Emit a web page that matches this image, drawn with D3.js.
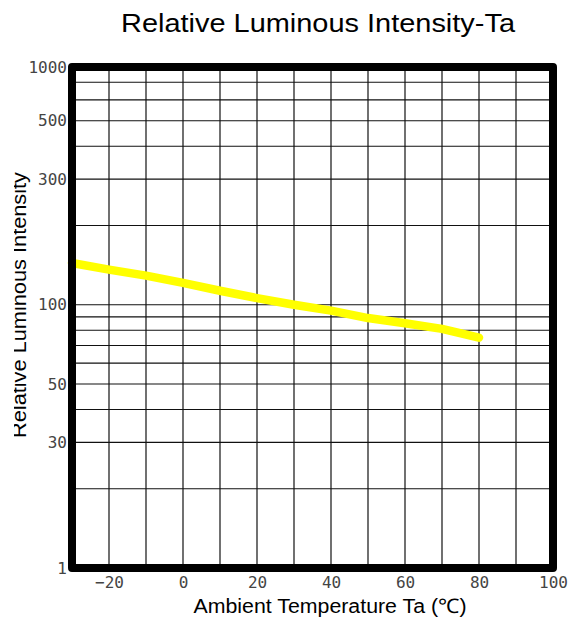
<!DOCTYPE html>
<html>
<head>
<meta charset="utf-8">
<script src="https://cdn.jsdelivr.net/npm/d3@7"></script>
<style>
  body { margin: 0; background: #fff; }
  svg { display: block; }
</style>
</head>
<body>
<div id="chart"></div>
<script>
// data
var temps = [-30, -20, -10, 0, 10, 20, 30, 40, 50, 60, 70, 80];
var intensity = [144, 136, 129, 121, 113, 106, 100, 95, 89, 85, 81, 75];

var xTicks = [-20, 0, 20, 40, 60, 80, 100];
var xGrid = [-20, -10, 0, 10, 20, 30, 40, 50, 60, 70, 80, 90];
// the printed y labels do not match a clean log axis, keep the drawn positions
var yTickVals = [10, 30, 50, 100, 300, 500, 800];
var yTickLabels = ["1", "30", "50", "100", "300", "500", "1000"];
var yGrid = [20, 30, 40, 50, 60, 70, 80, 90, 100, 200, 300, 400, 500, 600, 700];

var width = 576, height = 623;
var plotL = 72, plotR = 553, plotT = 67, plotB = 568;

var svg = d3.select("#chart").append("svg")
  .attr("width", width)
  .attr("height", height);

var x = d3.scaleLinear().domain([-30, 100]).range([plotL, plotR]);
var y = d3.scaleLog().domain([10, 800]).range([plotB, plotT]);

// grid
var grid = svg.append("g");
grid.selectAll(".vg").data(xGrid).enter().append("line")
  .attr("x1", function(d){ return x(d); })
  .attr("x2", function(d){ return x(d); })
  .attr("y1", plotT)
  .attr("y2", plotB)
  .style("stroke", "#111")
  .style("stroke-width", 1.2);
grid.selectAll(".hg").data(yGrid).enter().append("line")
  .attr("x1", plotL)
  .attr("x2", plotR)
  .attr("y1", function(d){ return y(d); })
  .attr("y2", function(d){ return y(d); })
  .style("stroke", "#111")
  .style("stroke-width", 1.2);

// curve
var line = d3.line()
  .x(function(d, i){ return x(temps[i]); })
  .y(function(d){ return y(d); });
svg.append("path")
  .datum(intensity)
  .attr("d", line)
  .style("fill", "none")
  .style("stroke", "#ffff00")
  .style("stroke-width", 8.5)
  .style("stroke-linecap", "round")
  .style("stroke-linejoin", "round");

// frame
svg.append("rect")
  .attr("x", plotL)
  .attr("y", plotT)
  .attr("width", plotR - plotL)
  .attr("height", plotB - plotT)
  .style("fill", "none")
  .style("stroke", "#000")
  .style("stroke-width", 8)
  .style("stroke-linejoin", "round");

// tick labels
var xAxis = d3.axisBottom(x).tickValues(xTicks).tickSize(0).tickPadding(9);
var gx = svg.append("g")
  .attr("transform", "translate(0," + plotB + ")")
  .call(xAxis);
gx.select(".domain").remove();
gx.selectAll("text")
  .style("font-family", "DejaVu Sans Mono")
  .style("font-size", "16px")
  .style("fill", "#444");

var yAxis = d3.axisLeft(y).tickValues(yTickVals).tickSize(0).tickPadding(4)
  .tickFormat(function(d, i){ return yTickLabels[i]; });
var gy = svg.append("g")
  .attr("transform", "translate(" + (plotL - 1) + ",0)")
  .call(yAxis);
gy.select(".domain").remove();
gy.selectAll("text")
  .style("font-family", "DejaVu Sans Mono")
  .style("font-size", "16px")
  .style("fill", "#444");

// titles
svg.append("text")
  .attr("x", 318)
  .attr("y", 32)
  .attr("text-anchor", "middle")
  .attr("textLength", 394)
  .attr("lengthAdjust", "spacingAndGlyphs")
  .style("font-family", "Liberation Sans, Arial, sans-serif")
  .style("font-size", "25px")
  .text("Relative Luminous Intensity-Ta");

svg.append("text")
  .attr("x", 330)
  .attr("y", 613)
  .attr("text-anchor", "middle")
  .attr("textLength", 273)
  .attr("lengthAdjust", "spacingAndGlyphs")
  .style("font-family", "Liberation Sans, Arial, sans-serif")
  .style("font-size", "20px")
  .text("Ambient Temperature Ta (\u2103)");

// the y title is cut at its top edge in the reference
svg.append("defs").append("clipPath")
  .attr("id", "yclip")
  .append("rect")
    .attr("x", 14)
    .attr("y", 0)
    .attr("width", 40)
    .attr("height", height);

svg.append("g")
  .attr("clip-path", "url(#yclip)")
  .append("text")
    .attr("transform", "translate(26,305) rotate(-90)")
    .attr("text-anchor", "middle")
    .attr("textLength", 266)
    .attr("lengthAdjust", "spacingAndGlyphs")
    .style("font-family", "Liberation Sans, Arial, sans-serif")
    .style("font-size", "20px")
    .text("Relative Luminous Intensity");
</script>
</body>
</html>
